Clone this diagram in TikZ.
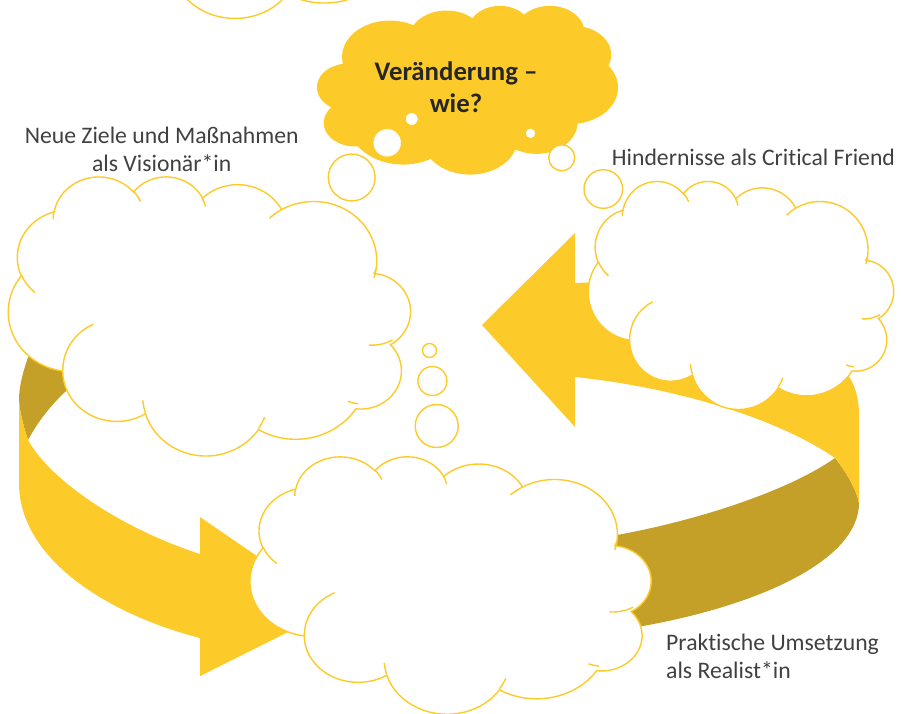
\documentclass[tikz,border=0pt]{standalone}
\usepackage{fontspec}
\setmainfont{Carlito}[Ligatures=CommonOff]
\usepackage{tikz}
\definecolor{ringgelb}{RGB}{253,203,41}
\definecolor{ringdunkel}{RGB}{197,160,40}
\definecolor{schrift}{RGB}{64,64,64}
\definecolor{fragetext}{RGB}{38,38,38}
\newcommand{\wolkenrand}{%
  (9.03,33.26)
  arc[start angle=172.25,end angle=300.36,x radius=15.63,y radius=21.27]
  arc[start angle=207.98,end angle=314.55,x radius=12.34,y radius=16.82]
  arc[start angle=206.51,end angle=322.68,x radius=10.10,y radius=13.76]
  arc[start angle=220.27,end angle=349.78,x radius=11.24,y radius=15.27]
  arc[start angle=-74.77,end angle=23.21,x radius=12.34,y radius=16.84]
  arc[start angle=-37.52,end angle=81.86,x radius=15.68,y radius=21.34]
  arc[start angle=0.46,end angle=121.97,x radius=13.39,y radius=18.21]
  arc[start angle=16.84,end angle=146.22,x radius=15.63,y radius=21.33]
  arc[start angle=59.03,end angle=146.48,x radius=17.87,y radius=24.41]
  arc[start angle=83.31,end angle=223.12,x radius=10.09,y radius=13.70]
  arc[start angle=120.36,end angle=264.11,x radius=10.06,y radius=13.76]
  -- cycle}
\newcommand{\wolkenhaken}{%
  (10.86,60.59) arc[start angle=85.54,end angle=120.36,x radius=10.06,y radius=13.76]
  (16.04,80.78) arc[start angle=68.26,end angle=83.31,x radius=10.09,y radius=13.70]
  (38.14,90.49) arc[start angle=146.22,end angle=158.47,x radius=15.63,y radius=21.33]
  (66.73,80.44) arc[start angle=4.74,end angle=16.84,x radius=15.63,y radius=21.33]
  (79.00,53.13) arc[start angle=-63.99,end angle=0.46,x radius=13.39,y radius=18.21]
  (96.75,35.54) arc[start angle=23.21,end angle=49.66,x radius=12.34,y radius=16.84]
  (88.71,12.56) arc[start angle=-10.22,end angle=0.82,x radius=11.24,y radius=15.27]
  (67.31,9.15) arc[start angle=-156.29,end angle=-139.73,x radius=11.24,y radius=15.27]
  (51.25,10.93) arc[start angle=-167.72,end angle=-153.49,x radius=10.10,y radius=13.76]
  (32.41,12.02) arc[start angle=-59.64,end angle=-45.74,x radius=15.63,y radius=21.27]
  (9.55,36.55) arc[start angle=163.18,end angle=172.25,x radius=15.63,y radius=21.27]}
\newcommand{\wolke}[5][wolke]{%
  \begin{scope}[shift={(#2,#3)},xscale=#4,yscale=#5]
    \path[#1] \wolkenrand;
    \draw[#1,fill=none] \wolkenhaken;
  \end{scope}}

\begin{document}
\begin{tikzpicture}[x=1pt,y=-1pt]
  \tikzset{band/.style={fill=ringgelb},
           bandschatten/.style={fill=ringdunkel},
           wolke/.style={draw=ringgelb,fill=white,line width=1.4pt},
           wolkegelb/.style={draw=ringgelb,fill=ringgelb,line width=1.4pt},
           blase/.style={draw=ringgelb,fill=white,line width=1.4pt},
           beschriftung/.style={font=\fontsize{23.7}{28.3}\selectfont,text=schrift,inner sep=0pt}}
  \useasboundingbox (0,0) rectangle (903,714);
  \clip (0,0) rectangle (903,714);

  % Ring
  \path[bandschatten] (19,400) .. controls (20,414) and (24,428) .. (28,440)
    .. controls (40,418) and (55,400) .. (75,383) -- (100,360) -- (60,325) -- (30,352)
    .. controls (24,368) and (19,385) .. (19,400) -- cycle;
  \path[band] (19,400) -- (19,483) .. controls (19,560) and (110,615) .. (200,638)
    -- (200,676) -- (334,609) -- (200,517) -- (200,554)
    .. controls (120,528) and (50,480) .. (28,440)
    .. controls (24,428) and (20,414) .. (19,400) -- cycle;
  \path[bandschatten] (835,458) .. controls (847,473) and (856,489) .. (859,503)
    .. controls (859,560) and (760,605) .. (643,626) -- (600,620) -- (600,545) -- (617,535)
    .. controls (700,520) and (790,490) .. (835,458) -- cycle;
  \path[band] (575,233) -- (482,325) -- (575,427) -- (575,377)
    .. controls (680,388) and (780,420) .. (835,458)
    .. controls (847,473) and (856,489) .. (859,503) -- (859,415)
    .. controls (859,398) and (855,385) .. (848,375) -- (800,330) -- (650,280) -- (575,283) -- cycle;

  % Wolken
  \wolke{441}{-239.5}{-4.03}{2.57}
  \wolke[wolkegelb]{316}{6}{3.013}{1.673}
  \wolke{412.7}{176}{-4.044}{2.79}
  \wolke{895.3}{180.7}{-3.07}{2.28}
  \wolke{653.3}{456}{-4.033}{2.573}

  % Gedankenblasen
  \draw[blase] (351.7,177.5) circle[radius=23.4];
  \draw[blase] (387.2,142.8) circle[radius=14.5];
  \draw[blase] (411.7,119) circle[radius=6.7];
  \draw[blase] (603.3,189) circle[radius=19.3];
  \draw[blase] (561.7,157.8) circle[radius=13];
  \draw[blase] (530.5,133.3) circle[radius=5.6];
  \draw[blase] (436.7,426) circle[radius=21.5];
  \draw[blase] (432.4,381) circle[radius=14.5];
  \draw[blase] (429.5,350.5) circle[radius=7];

  \node[anchor=north,align=center,text=fragetext,inner sep=0pt,
        font=\bfseries\fontsize{26.8}{32.7}\selectfont] (frage) at (456,61) {Veränderung –\\wie?};
  \node[beschriftung,anchor=north,align=center] (vision) at (161.7,126.5) {Neue Ziele und Maßnahmen\\als Visionär*in};
  \node[beschriftung,anchor=base west] (kritik) at (611.7,166) {Hindernisse als Critical Friend};
  \node[beschriftung,anchor=north west,align=left] (umsetzung) at (666,634) {Praktische Umsetzung\\als Realist*in};
\end{tikzpicture}
\end{document}
